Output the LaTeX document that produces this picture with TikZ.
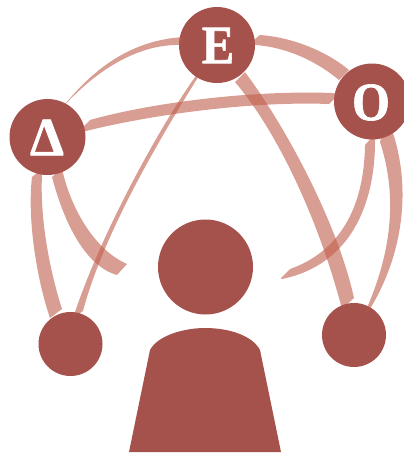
\documentclass[tikz,border=0pt]{standalone}
\usepackage{fontspec}
\setmainfont[BoldFeatures={FakeBold=1.2}]{Liberation Serif}
\definecolor{disc}{HTML}{A5524C}
\definecolor{band}{HTML}{C05D4B}
\newcommand{\allbands}{%
  % Delta to E
  \fill[band] (62,108) .. controls (92,70) and (130,40) .. (184,37) -- (180,45) .. controls (140,44) and (98,68) .. (62,108) -- cycle;
  % E to O
  \fill[band] (250,43) -- (260,35) .. controls (290,37) and (325,50) .. (349,70) -- (339,80) .. controls (315,60) and (285,47) .. (255,45) -- cycle;
  % Delta to O
  \fill[band] (80,130) -- (90,120) .. controls (150,103) and (250,90) .. (332,93) -- (339,94) -- (329,104) .. controls (250,101) and (150,115) .. (86,131) -- cycle;
  % Delta to lower left
  \fill[band] (43,168) -- (32,177) .. controls (27,220) and (37,280) .. (50,318) -- (62,309) .. controls (48,265) and (40,215) .. (42,175) -- cycle;
  % Delta swoosh
  \fill[band] (62,168) -- (52,177) .. controls (62,215) and (82,265) .. (117,275) -- (127,264) .. controls (95,250) and (72,210) .. (63,173) -- cycle;
  % E to lower left
  \fill[band] (200,70) .. controls (160,125) and (100,235) .. (73,318) -- (83,311) .. controls (105,228) and (168,125) .. (202,71) -- cycle;
  % E to lower right
  \fill[band] (235,82) .. controls (280,135) and (320,225) .. (342,309) -- (354,298) .. controls (338,225) and (288,130) .. (245,72) -- cycle;
  % O swoosh
  \fill[band] (374,135) -- (365,145) .. controls (364,210) and (338,252) .. (290,269) -- (281,278) -- (282,279) .. controls (350,265) and (376,205) .. (375,137) -- cycle;
  % O to lower right
  \fill[band] (382,134) -- (380,142) .. controls (394,185) and (397,240) .. (366,310) -- (368,312) .. controls (400,262) and (413,195) .. (393,133) -- cycle;
}
\tikzset{
  discnode/.style={circle,fill=disc,draw=none,inner sep=0pt,minimum size=#1},
  letter/.style={text=white,font=\fontsize{54}{54}\selectfont\bfseries,inner sep=0pt}
}
\begin{document}
\begin{tikzpicture}[x=1pt,y=-1pt]
\useasboundingbox (0,0) rectangle (404,453);
\clip (0,0) rectangle (404,453);
\begin{scope}[fill opacity=.6]
\allbands
\end{scope}
\node[discnode=76pt] (E) at (217,45) {};
\node[discnode=76pt] (D) at (47.5,137) {};
\node[discnode=76pt] (O) at (372,101.5) {};
\node[discnode=64pt] (L) at (70.5,344) {};
\node[discnode=64pt] (R) at (354,335) {};
\node[discnode=95pt] (head) at (205.5,267) {};
\begin{scope}
\clip (217,45) circle (38) (47.5,137) circle (38) (372,101.5) circle (38) (70.5,344) circle (32) (354,335) circle (32);
\begin{scope}[fill opacity=.22]
\allbands
\end{scope}
\end{scope}
\fill[disc] (129,452) -- (150,350) .. controls (158,335) and (185,328) .. (205,328) .. controls (228,328) and (252,335) .. (260,350) -- (281,452) -- cycle;
\node[letter] (Etxt) at (218,45.5) {\scalebox{.9}[1]{E}};
\node[letter] (Otxt) at (371,102.5) {\scalebox{.9}[1]{O}};
\node[letter] (Dtxt) at (47,137.5) {Δ};
\end{tikzpicture}
\end{document}
